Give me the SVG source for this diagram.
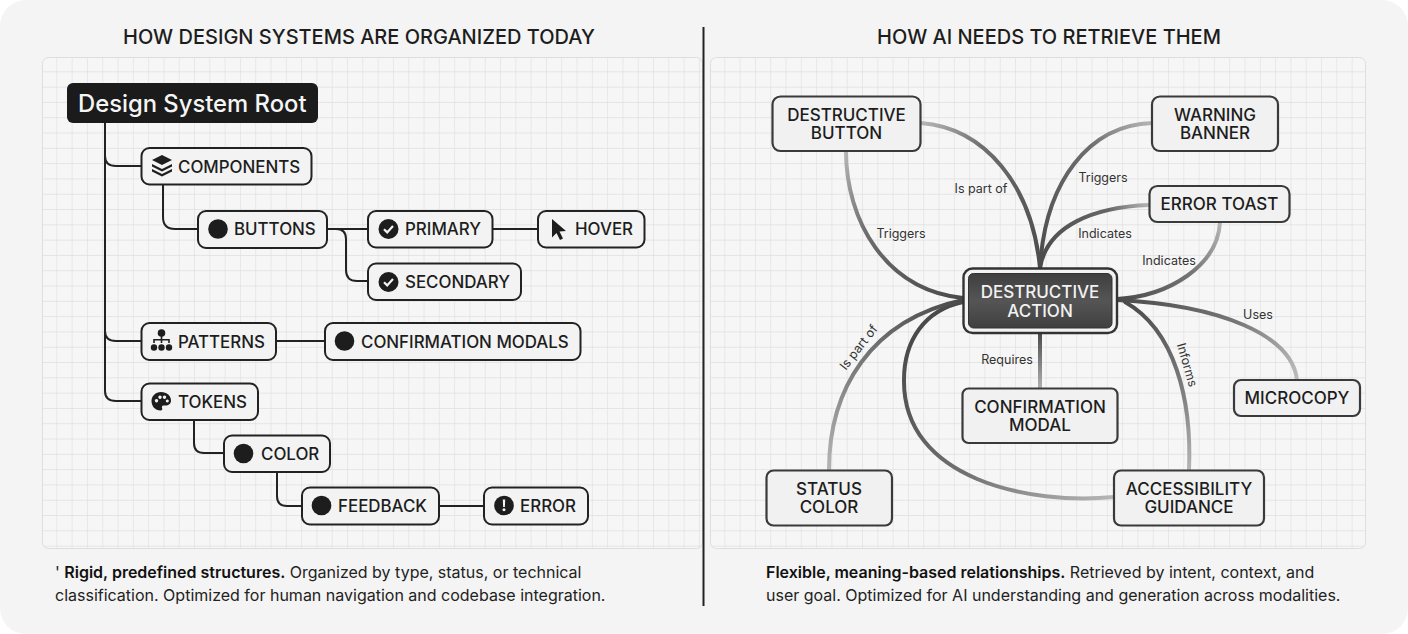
<svg xmlns="http://www.w3.org/2000/svg" width="1408" height="634" viewBox="0 0 1408 634">
<style>
text{font-family:Inter,"Liberation Sans",sans-serif;fill:#1d1d1d}
.title{font-size:20px;font-weight:500;text-anchor:middle}
.n{fill:#f3f3f3;stroke:#222;stroke-width:2}
.t{font-size:16.900px;font-weight:500}
.m{fill:#f1f1f1;stroke:#3a3a3a;stroke-width:2.200}
.mt{font-size:17px;font-weight:500;text-anchor:middle}
.l{font-size:12.500px;fill:#333;text-anchor:middle}
.c{fill:none;stroke:#222;stroke-width:2}
.g{fill:none;stroke-width:4;stroke-linecap:round}
.cap{font-size:16px;fill:#222}
.capb{font-weight:600;fill:#111}
.i{fill:#1d1d1d}
</style>
<defs>
<pattern id="grid" width="15.3" height="15.3" patternUnits="userSpaceOnUse" x="42" y="57">
<path d="M15.3 0V15.3H0" fill="none" stroke="#dedede" stroke-width="1.200"/>
</pattern>
<pattern id="grid2" width="15.3" height="15.3" patternUnits="userSpaceOnUse" x="710" y="57">
<path d="M15.3 0V15.3H0" fill="none" stroke="#dedede" stroke-width="1.200"/>
</pattern>
<linearGradient id="g1" gradientUnits="userSpaceOnUse" x1="1040" y1="268" x2="921" y2="123"><stop offset="0" stop-color="#4a4a4a"/><stop offset=".7" stop-color="#6e6e6e"/><stop offset="1" stop-color="#b5b5b5"/></linearGradient>
<linearGradient id="g2" gradientUnits="userSpaceOnUse" x1="963" y1="298" x2="846" y2="151"><stop offset="0" stop-color="#4a4a4a"/><stop offset=".6" stop-color="#6e6e6e"/><stop offset="1" stop-color="#b5b5b5"/></linearGradient>
<linearGradient id="g3" gradientUnits="userSpaceOnUse" x1="1040" y1="268" x2="1152" y2="123"><stop offset="0" stop-color="#4a4a4a"/><stop offset=".7" stop-color="#6e6e6e"/><stop offset="1" stop-color="#b5b5b5"/></linearGradient>
<linearGradient id="g4" gradientUnits="userSpaceOnUse" x1="1040" y1="268" x2="1149" y2="205"><stop offset="0" stop-color="#4a4a4a"/><stop offset=".7" stop-color="#666"/><stop offset="1" stop-color="#b5b5b5"/></linearGradient>
<linearGradient id="g5" gradientUnits="userSpaceOnUse" x1="1117" y1="299" x2="1220" y2="222"><stop offset="0" stop-color="#4a4a4a"/><stop offset=".6" stop-color="#777"/><stop offset="1" stop-color="#b5b5b5"/></linearGradient>
<linearGradient id="g6" gradientUnits="userSpaceOnUse" x1="1117" y1="300" x2="1297" y2="380"><stop offset="0" stop-color="#4a4a4a"/><stop offset=".6" stop-color="#777"/><stop offset="1" stop-color="#bbb"/></linearGradient>
<linearGradient id="g7" gradientUnits="userSpaceOnUse" x1="1125" y1="303" x2="1189" y2="470"><stop offset="0" stop-color="#4a4a4a"/><stop offset=".6" stop-color="#808080"/><stop offset="1" stop-color="#b5b5b5"/></linearGradient>
<linearGradient id="g8" gradientUnits="userSpaceOnUse" x1="963" y1="302" x2="1114" y2="497"><stop offset="0" stop-color="#4a4a4a"/><stop offset=".55" stop-color="#707070"/><stop offset="1" stop-color="#b5b5b5"/></linearGradient>
<linearGradient id="g9" gradientUnits="userSpaceOnUse" x1="963" y1="300" x2="829" y2="470"><stop offset="0" stop-color="#4a4a4a"/><stop offset=".6" stop-color="#808080"/><stop offset="1" stop-color="#b5b5b5"/></linearGradient>
<linearGradient id="g10" gradientUnits="userSpaceOnUse" x1="1040" y1="333" x2="1040" y2="388"><stop offset="0" stop-color="#4a4a4a"/><stop offset="1" stop-color="#b0b0b0"/></linearGradient>
<linearGradient id="cg" x1="0" y1="0" x2="0" y2="1"><stop offset="0" stop-color="#3f3f3f"/><stop offset=".5" stop-color="#555"/><stop offset="1" stop-color="#404040"/></linearGradient>
<symbol id="chk" viewBox="0 0 20 20" overflow="visible"><circle cx="10" cy="10" r="10" fill="#1d1d1d"/><path d="M5.500 10.200l3.200 3.200 5.800-6.400" fill="none" stroke="#f3f3f3" stroke-width="2.200"/></symbol>
</defs>

<rect width="1408" height="634" fill="#fff"/>
<rect width="1408" height="634" rx="26" fill="#f4f4f4"/>
<rect x="42.500" y="57.500" width="660" height="491" rx="6" fill="#f6f6f6"/>
<rect x="42.500" y="57.500" width="660" height="491" rx="6" fill="url(#grid)" stroke="#dedede"/>
<rect x="710.500" y="57.500" width="655" height="491" rx="6" fill="#f6f6f6"/>
<rect x="710.500" y="57.500" width="655" height="491" rx="6" fill="url(#grid2)" stroke="#dedede"/>
<path d="M703.500 27V606" stroke="#222" stroke-width="2"/>
<text class="title" x="359" y="44">HOW DESIGN SYSTEMS ARE ORGANIZED TODAY</text>
<text class="title" x="1049" y="44">HOW AI NEEDS TO RETRIEVE THEM</text>

<g id="connectors">
<path class="c" d="M105 123V391Q105 401 116 401H141M105 156Q105 166 116 166H141M105 331Q105 341 116 341H141"/>
<path class="c" d="M163 185V217Q163 229 175 229H198"/>
<path class="c" d="M327 229H368M336 229Q346 229 346 239V270Q346 281 357 281H368"/>
<path class="c" d="M492 229H538"/>
<path class="c" d="M276 341H325"/>
<path class="c" d="M194 420V443Q194 453 204 453H224"/>
<path class="c" d="M277 472V496Q277 506 287 506H302"/>
<path class="c" d="M439 506H484"/>
<path class="g" stroke="url(#g1)" d="M921 123C985 128 1032 185 1040 268"/>
<path class="g" stroke="url(#g2)" d="M846 151C846 220 885 290 963 298"/>
<path class="g" stroke="url(#g3)" d="M1152 123C1090 125 1045 180 1040 268"/>
<path class="g" stroke="url(#g4)" d="M1149 205C1095 207 1047 225 1040 268"/>
<path class="g" stroke="url(#g5)" d="M1220 222C1218 265 1170 296 1117 299"/>
<path class="g" stroke="url(#g6)" d="M1297 380C1292 335 1220 305 1117 300"/>
<path class="g" stroke="url(#g7)" d="M1189 470C1192 400 1175 330 1125 302"/>
<path class="g" stroke="url(#g8)" d="M1114 497C1030 505 903 480 904 380C904 340 925 310 963 302"/>
<path class="g" stroke="url(#g9)" d="M829 470C829 390 870 320 963 300"/>
<path class="g" stroke="url(#g10)" d="M1040 333V388"/>
</g>
<g id="edge-labels">
<text class="l" x="981" y="193">Is part of</text>
<text class="l" x="901" y="238">Triggers</text>
<text class="l" x="1103" y="182">Triggers</text>
<text class="l" x="1105" y="238">Indicates</text>
<text class="l" x="1169" y="265">Indicates</text>
<text class="l" x="1258" y="319">Uses</text>
<text class="l" x="1007" y="364">Requires</text>
<text class="l" transform="translate(862 350) rotate(-52)">Is part of</text>
<text class="l" transform="translate(1183 366) rotate(74)">Informs</text>
</g>

<g id="root"><rect x="67" y="83" width="251" height="40" rx="6" fill="#1b1b1b"/><text x="78" y="112" font-size="23.800" font-weight="500" style="fill:#f5f5f5">Design System Root</text></g>

<g id="components"><rect class="n" x="141.500" y="148" width="170" height="36.500" rx="8"/>
<g class="i"><path d="M162 155l10 5-10 5-10-5z"/><path d="M152 164l10 5 10-5v2.500l-10 5-10-5zM152 169l10 5 10-5v2.500l-10 5-10-5z"/></g>
<text class="t" x="178" y="172.500">COMPONENTS</text></g>

<g id="buttons"><rect class="n" x="198" y="211" width="129" height="37" rx="8"/><circle class="i" cx="218" cy="229" r="9.800"/><text class="t" x="234" y="235">BUTTONS</text></g>
<g id="primary"><rect class="n" x="368" y="211" width="124.500" height="36.500" rx="8"/><use href="#chk" x="378.500" y="219" width="20" height="20"/><text class="t" x="405" y="235">PRIMARY</text></g>
<g id="hover"><rect class="n" x="538" y="211" width="106.500" height="36.500" rx="8"/><path class="i" d="M552 219L566 231L559.500 231.500L563 238.500L560 240L556.500 233L552 237.500z"/><text class="t" x="575" y="235">HOVER</text></g>
<g id="secondary"><rect class="n" x="368" y="263.500" width="153" height="36.500" rx="8"/><use href="#chk" x="378.500" y="272" width="20" height="20"/><text class="t" x="405" y="287.500">SECONDARY</text></g>
<g id="patterns"><rect class="n" x="141.500" y="323" width="134.500" height="37" rx="8"/>
<g class="i"><circle cx="161.500" cy="333" r="3.800"/><circle cx="154" cy="347.500" r="3.200"/><circle cx="161.500" cy="347.500" r="3.200"/><circle cx="169" cy="347.500" r="3.200"/><path d="M160.700 335h1.600v4h7.500v4h-1.600v-2.400h-5.900v2.400h-1.600v-2.400h-5.900v2.400h-1.600v-4h7.500z"/></g>
<text class="t" x="178" y="347.500">PATTERNS</text></g>
<g id="confirmation-modals"><rect class="n" x="325" y="323" width="255.500" height="37" rx="8"/><circle class="i" cx="344.500" cy="341" r="9.800"/><text class="t" x="361" y="347.500">CONFIRMATION MODALS</text></g>
<g id="tokens"><rect class="n" x="141.500" y="383.500" width="116.500" height="36.500" rx="8"/>
<path class="i" fill-rule="evenodd" d="M161 392C167 392 171 396 171 400.500C171 404 168.500 405.500 165.500 405.500H163.500C162 405.500 161.500 407 162 408C162.800 409.500 162 410.500 160.500 410.500C155 410.500 151.500 406 151.500 401C151.500 396 155.500 392 161 392ZM156.500 399a1.700 1.700 0 1 0 .01 0ZM160 395.500a1.700 1.700 0 1 0 .01 0ZM164.500 395.500a1.700 1.700 0 1 0 .01 0ZM167.300 399.500a1.500 1.500 0 1 0 .01 0Z"/>
<text class="t" x="178" y="407.500">TOKENS</text></g>
<g id="color"><rect class="n" x="224" y="435.500" width="106" height="36.500" rx="8"/><circle class="i" cx="243.500" cy="453.500" r="9.800"/><text class="t" x="261" y="459.500">COLOR</text></g>
<g id="feedback"><rect class="n" x="302" y="487.500" width="137" height="37" rx="8"/><circle class="i" cx="321.500" cy="505.500" r="9.800"/><text class="t" x="338" y="512">FEEDBACK</text></g>
<g id="error"><rect class="n" x="484" y="487.500" width="104" height="37" rx="8"/><circle class="i" cx="504" cy="505.500" r="9.800"/><path d="M502.800 499.500h2.400l-.3 7.500h-1.800zM504 508.300a1.500 1.500 0 1 1-.01 0z" fill="#f3f3f3"/><text class="t" x="520" y="512">ERROR</text></g>

<g id="destructive-button"><rect class="m" x="772.500" y="96.500" width="148" height="54.500" rx="8"/><text class="mt" x="846.500" y="120.500">DESTRUCTIVE</text><text class="mt" x="846.500" y="139">BUTTON</text></g>
<g id="warning-banner"><rect class="m" x="1152" y="96.500" width="126" height="54.500" rx="8"/><text class="mt" x="1215" y="120.500">WARNING</text><text class="mt" x="1215" y="139">BANNER</text></g>
<g id="error-toast"><rect class="m" x="1149.500" y="186" width="140" height="36" rx="8"/><text class="mt" x="1219.500" y="210">ERROR TOAST</text></g>
<g id="destructive-action"><rect x="963.500" y="268.500" width="153.500" height="64.500" rx="9" fill="#f3f3f3" stroke="#333" stroke-width="2.400"/><rect x="968.500" y="273.500" width="143.500" height="54.500" rx="5" fill="url(#cg)" stroke="#333"/><text class="mt" x="1040" y="298" style="fill:#f2f2f2">DESTRUCTIVE</text><text class="mt" x="1040" y="316.500" style="fill:#f2f2f2">ACTION</text></g>
<g id="confirmation-modal"><rect class="m" x="962.500" y="388.500" width="155" height="54.500" rx="6"/><text class="mt" x="1040" y="412.500">CONFIRMATION</text><text class="mt" x="1040" y="431">MODAL</text></g>
<g id="microcopy"><rect class="m" x="1234" y="380" width="126" height="36" rx="7"/><text class="mt" x="1297" y="404">MICROCOPY</text></g>
<g id="status-color"><rect class="m" x="766.500" y="470.500" width="125.500" height="55" rx="7"/><text class="mt" x="829" y="494.500">STATUS</text><text class="mt" x="829" y="513">COLOR</text></g>
<g id="accessibility-guidance"><rect class="m" x="1114" y="470.500" width="150" height="55" rx="7"/><text class="mt" x="1189" y="494.500">ACCESSIBILITY</text><text class="mt" x="1189" y="513">GUIDANCE</text></g>

<text class="cap" x="55" y="577.500">' <tspan class="capb">Rigid, predefined structures.</tspan> Organized by type, status, or technical</text>
<text class="cap" x="55" y="600.500">classification. Optimized for human navigation and codebase integration.</text>
<text class="cap" x="766" y="577.500"><tspan class="capb">Flexible, meaning-based relationships.</tspan> Retrieved by intent, context, and</text>
<text class="cap" x="766" y="600.500">user goal. Optimized for AI understanding and generation across modalities.</text>
</svg>
